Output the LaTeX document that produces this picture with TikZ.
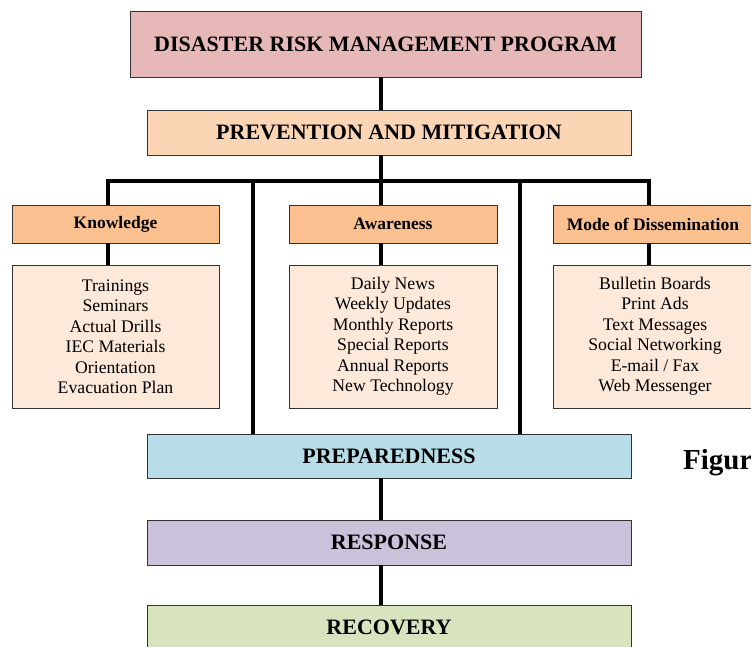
\documentclass[tikz,border=0pt]{standalone}
\usepackage{fontspec}
\setmainfont{Liberation Serif}
\definecolor{drmfill}{HTML}{E6B9B8}
\definecolor{prevfill}{HTML}{FCD5B5}
\definecolor{headfill}{HTML}{FAC090}
\definecolor{listfill}{HTML}{FDE9D9}
\definecolor{prepfill}{HTML}{B7DEE8}
\definecolor{respfill}{HTML}{CCC1DA}
\definecolor{recofill}{HTML}{D7E4BD}
\begin{document}
\begin{tikzpicture}[x=1pt,y=-1pt,
  box/.style={draw=black!80, line width=0.9pt, inner sep=0pt, align=center},
  stage/.style={box, minimum width=484pt, font=\fontsize{22}{26}\selectfont\bfseries},
  headbox/.style={box, minimum width=207pt, minimum height=38pt, fill=headfill,
    font=\fontsize{17.5}{20}\selectfont\bfseries},
  listbox/.style={box, minimum width=207pt, minimum height=143pt, fill=listfill,
    font=\fontsize{17.7}{20.5}\selectfont},
  link/.style={line width=3.8pt, black}]
\useasboundingbox (0,0) rectangle (751,646);

% program and first stage
\node[box, minimum width=511pt, minimum height=66pt, fill=drmfill,
  font=\fontsize{22}{26}\selectfont\bfseries] (drm) at (385.5,44) {DISASTER RISK MANAGEMENT PROGRAM};
\node[stage, minimum height=45pt, fill=prevfill] (prev) at (389,132.5) {PREVENTION AND MITIGATION};

% three branches
\node[headbox] (khead) at (115.5,224) {Knowledge};
\node[listbox] (klist) at (115.5,336.5) {Trainings\\Seminars\\Actual Drills\\IEC Materials\\Orientation\\Evacuation Plan};
\node[headbox, minimum width=208pt] (ahead) at (393,224) {Awareness};
\node[listbox, minimum width=208pt] (alist) at (393,336.5) {Daily News\\Weekly Updates\\Monthly Reports\\Special Reports\\Annual Reports\\New Technology};
\node[headbox, minimum width=200pt] (mhead) at (653,224) {Mode of Dissemination};
\node[listbox, minimum width=204pt] (mlist) at (655,336.5) {Bulletin Boards\\Print Ads\\Text Messages\\Social Networking\\E-mail / Fax\\Web Messenger};

% later stages
\node[stage, minimum height=44pt, fill=prepfill] (prep) at (389,456) {PREPAREDNESS};
\node[stage, minimum height=45pt, fill=respfill] (resp) at (389,542.5) {RESPONSE};
\node[stage, minimum height=44pt, fill=recofill] (reco) at (389,627) {RECOVERY};

\node[anchor=base west, inner sep=0pt, font=\fontsize{29}{31}\selectfont\bfseries] (fig) at (683,469) {Figur};

% connectors
\coordinate (spine) at (381,181);
\coordinate (barL) at (108,181);
\coordinate (barR) at (649,181);
\coordinate (dropL) at (253,181);
\coordinate (dropR) at (520,181);

\draw[link] (drm.south -| spine) -- (prev.north -| spine);
\draw[link] (prev.south -| spine) -- (ahead.north -| spine);
\draw[link] (khead.north -| barL) -- (barL) -- (barR) -- (mhead.north -| barR);
\draw[link] (khead.south -| barL) -- (klist.north -| barL);
\draw[link] (ahead.south -| spine) -- (alist.north -| spine);
\draw[link] (mhead.south -| barR) -- (mlist.north -| barR);
\draw[link] (dropL) -- (prep.north -| dropL);
\draw[link] (dropR) -- (prep.north -| dropR);
\draw[link] (prep.south -| spine) -- (resp.north -| spine);
\draw[link] (resp.south -| spine) -- (reco.north -| spine);
\end{tikzpicture}
\end{document}
